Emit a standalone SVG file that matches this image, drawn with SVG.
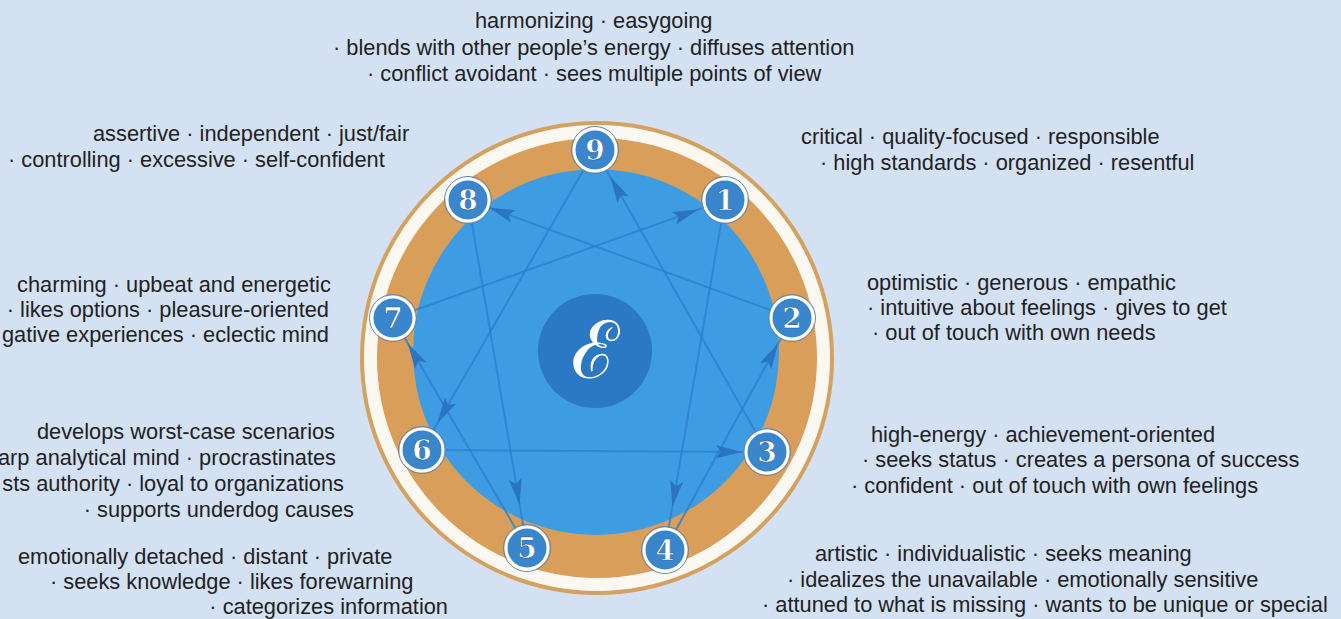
<svg xmlns="http://www.w3.org/2000/svg" width="1341" height="619" viewBox="0 0 1341 619">
<style>
.t{font-family:"Liberation Sans",Arial,sans-serif;font-size:21.8px;fill:#222}
.e{text-anchor:end}
.ring-line{fill:#d4a160}
.ring-white{fill:#fbf8f1}
.ring-orange{fill:#d99f5a}
.disc{fill:#3e9ce2}
.core{fill:#2b78c4}
.conn{fill:none;stroke:#2a7fcf;stroke-width:2;stroke-opacity:0.8;marker-mid:url(#ah)}
.nb{fill:#3a86cd;stroke:#ffffff;stroke-width:3}
.no{fill:none;stroke:#5f88b3;stroke-width:1}
.nt{font-family:"DejaVu Serif","Liberation Serif",serif;font-size:28px;font-weight:bold;fill:#ffffff;text-anchor:middle;stroke:#1f5f9f;stroke-width:0.6}
</style>
<defs>
<marker id="ah" viewBox="0 0 26 13" refX="26" refY="6.5" markerWidth="26" markerHeight="13" markerUnits="userSpaceOnUse" orient="auto">
<path d="M0,0 L26,6.5 L0,13 L5,6.5 z" fill="#2a74c2"/>
</marker>
</defs>
<rect width="1341" height="619" fill="#d4e1f2"/>

<g id="wheel">
<circle class="ring-line" cx="597" cy="358" r="237"/>
<circle class="ring-white" cx="597" cy="358" r="233"/>
<circle class="ring-orange" cx="597" cy="358" r="220"/>
<circle class="disc" cx="596" cy="352" r="183"/>
<circle class="core" cx="595" cy="351" r="57"/>
<text x="595" y="378" font-family="DejaVu Serif,'Liberation Serif',serif" font-size="80" fill="#ffffff" text-anchor="middle">ℰ</text>
</g>

<g id="connectors">
<path class="conn" d="M725,200 L672.4,506.6 L665,550"/>
<path class="conn" d="M665,550 L778.1,343.4 L792,318"/>
<path class="conn" d="M792,318 L488.7,207.5 L468,200"/>
<path class="conn" d="M468,200 L519.6,504.6 L527,548"/>
<path class="conn" d="M527,548 L407.6,343.1 L393,318"/>
<path class="conn" d="M393,318 L698.6,209.4 L725,200"/>
<path class="conn" d="M595,150 L437.5,423.1 L422,450"/>
<path class="conn" d="M422,450 L742,451.9 L767,452"/>
<path class="conn" d="M767,452 L610.3,176.9 L595,150"/>
</g>

<g id="node-9"><circle class="no" cx="595" cy="150" r="23.5"/><circle class="nb" cx="595" cy="150" r="21"/><text class="nt" x="595" y="160">9</text></g>
<g id="node-1"><circle class="no" cx="725" cy="200" r="23.5"/><circle class="nb" cx="725" cy="200" r="21"/><text class="nt" x="725" y="210">1</text></g>
<g id="node-2"><circle class="no" cx="792" cy="318" r="23.5"/><circle class="nb" cx="792" cy="318" r="21"/><text class="nt" x="792" y="328">2</text></g>
<g id="node-3"><circle class="no" cx="767" cy="452" r="23.5"/><circle class="nb" cx="767" cy="452" r="21"/><text class="nt" x="767" y="462">3</text></g>
<g id="node-4"><circle class="no" cx="665" cy="550" r="23.5"/><circle class="nb" cx="665" cy="550" r="21"/><text class="nt" x="665" y="560">4</text></g>
<g id="node-5"><circle class="no" cx="527" cy="548" r="23.5"/><circle class="nb" cx="527" cy="548" r="21"/><text class="nt" x="527" y="558">5</text></g>
<g id="node-6"><circle class="no" cx="422" cy="450" r="23.5"/><circle class="nb" cx="422" cy="450" r="21"/><text class="nt" x="422" y="460">6</text></g>
<g id="node-7"><circle class="no" cx="393" cy="318" r="23.5"/><circle class="nb" cx="393" cy="318" r="21"/><text class="nt" x="393" y="328">7</text></g>
<g id="node-8"><circle class="no" cx="468" cy="200" r="23.5"/><circle class="nb" cx="468" cy="200" r="21"/><text class="nt" x="468" y="210">8</text></g>

<g id="desc-9">
<text class="t" x="475" y="28">harmonizing · easygoing</text>
<text class="t" x="333" y="55">· blends with other people’s energy · diffuses attention</text>
<text class="t" x="367" y="81">· conflict avoidant · sees multiple points of view</text>
</g>
<g id="desc-8">
<text class="t" x="93" y="141">assertive · independent · just/fair</text>
<text class="t" x="8" y="167">· controlling · excessive · self-confident</text>
</g>
<g id="desc-7">
<text class="t" x="17" y="292">charming · upbeat and energetic</text>
<text class="t e" x="329" y="317">· likes options · pleasure-oriented</text>
<text class="t e" x="329" y="342">gative experiences · eclectic mind</text>
</g>
<g id="desc-6">
<text class="t e" x="335" y="439">develops worst-case scenarios</text>
<text class="t e" x="336" y="465">arp analytical mind · procrastinates</text>
<text class="t e" x="344" y="491">sts authority · loyal to organizations</text>
<text class="t e" x="354" y="517">· supports underdog causes</text>
</g>
<g id="desc-5">
<text class="t" x="18" y="564">emotionally detached · distant · private</text>
<text class="t" x="50" y="589">· seeks knowledge · likes forewarning</text>
<text class="t e" x="448" y="614">· categorizes information</text>
</g>
<g id="desc-1">
<text class="t" x="801" y="144">critical · quality-focused · responsible</text>
<text class="t" x="820" y="170">· high standards · organized · resentful</text>
</g>
<g id="desc-2">
<text class="t" x="867" y="290">optimistic · generous · empathic</text>
<text class="t" x="867" y="315">· intuitive about feelings · gives to get</text>
<text class="t" x="872" y="340">· out of touch with own needs</text>
</g>
<g id="desc-3">
<text class="t" x="871" y="442">high-energy · achievement-oriented</text>
<text class="t" x="862" y="467">· seeks status · creates a persona of success</text>
<text class="t" x="851" y="493">· confident · out of touch with own feelings</text>
</g>
<g id="desc-4">
<text class="t" x="815" y="561">artistic · individualistic · seeks meaning</text>
<text class="t" x="787" y="587">· idealizes the unavailable · emotionally sensitive</text>
<text class="t" x="762" y="612">· attuned to what is missing · wants to be unique or special</text>
</g>
</svg>
